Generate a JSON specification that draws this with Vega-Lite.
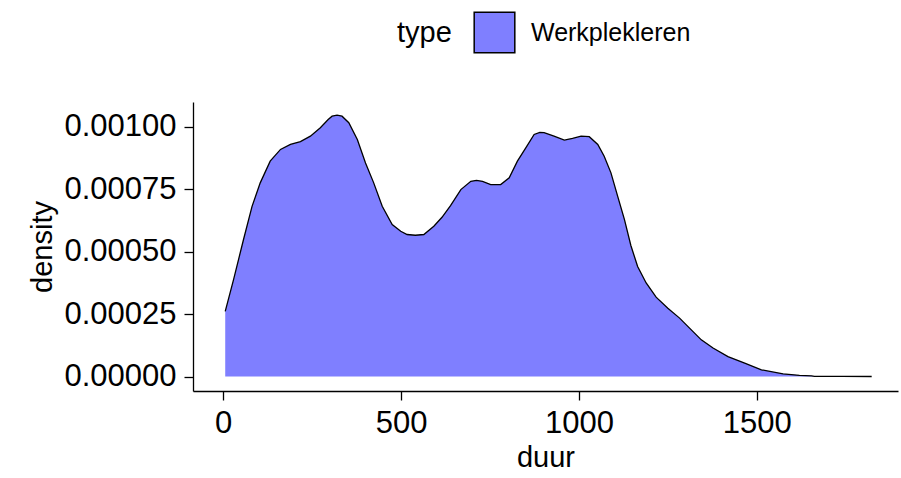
{
  "$schema": "https://vega.github.io/schema/vega-lite/v6.json",
  "autosize": {"type": "none"},
  "padding": {"left": 193, "top": 102, "right": 3, "bottom": 87},
  "width": 705,
  "height": 289,
  "background": "white",
  "config": {"view": {"stroke": null}, "font": "Liberation Sans"},
  "data": {
    "values": [
      {"duur": 5.6, "density": 0.000261, "type": "Werkplekleren"},
      {"duur": 29, "density": 0.000388, "type": "Werkplekleren"},
      {"duur": 57, "density": 0.000549, "type": "Werkplekleren"},
      {"duur": 81, "density": 0.000682, "type": "Werkplekleren"},
      {"duur": 104, "density": 0.000776, "type": "Werkplekleren"},
      {"duur": 132, "density": 0.000863, "type": "Werkplekleren"},
      {"duur": 161, "density": 0.000910, "type": "Werkplekleren"},
      {"duur": 189, "density": 0.000930, "type": "Werkplekleren"},
      {"duur": 217, "density": 0.000941, "type": "Werkplekleren"},
      {"duur": 245, "density": 0.000963, "type": "Werkplekleren"},
      {"duur": 273, "density": 0.000997, "type": "Werkplekleren"},
      {"duur": 295, "density": 0.001030, "type": "Werkplekleren"},
      {"duur": 306, "density": 0.001043, "type": "Werkplekleren"},
      {"duur": 320, "density": 0.001047, "type": "Werkplekleren"},
      {"duur": 334, "density": 0.001043, "type": "Werkplekleren"},
      {"duur": 353, "density": 0.001017, "type": "Werkplekleren"},
      {"duur": 377, "density": 0.000950, "type": "Werkplekleren"},
      {"duur": 400, "density": 0.000856, "type": "Werkplekleren"},
      {"duur": 423, "density": 0.000776, "type": "Werkplekleren"},
      {"duur": 447, "density": 0.000682, "type": "Werkplekleren"},
      {"duur": 475, "density": 0.000609, "type": "Werkplekleren"},
      {"duur": 499, "density": 0.000582, "type": "Werkplekleren"},
      {"duur": 517, "density": 0.000569, "type": "Werkplekleren"},
      {"duur": 540, "density": 0.000566, "type": "Werkplekleren"},
      {"duur": 564, "density": 0.000569, "type": "Werkplekleren"},
      {"duur": 592, "density": 0.000602, "type": "Werkplekleren"},
      {"duur": 615, "density": 0.000638, "type": "Werkplekleren"},
      {"duur": 639, "density": 0.000685, "type": "Werkplekleren"},
      {"duur": 668, "density": 0.000749, "type": "Werkplekleren"},
      {"duur": 696, "density": 0.000782, "type": "Werkplekleren"},
      {"duur": 712, "density": 0.000786, "type": "Werkplekleren"},
      {"duur": 729, "density": 0.000782, "type": "Werkplekleren"},
      {"duur": 752, "density": 0.000769, "type": "Werkplekleren"},
      {"duur": 780, "density": 0.000769, "type": "Werkplekleren"},
      {"duur": 804, "density": 0.000796, "type": "Werkplekleren"},
      {"duur": 827, "density": 0.000863, "type": "Werkplekleren"},
      {"duur": 851, "density": 0.000917, "type": "Werkplekleren"},
      {"duur": 874, "density": 0.000970, "type": "Werkplekleren"},
      {"duur": 890, "density": 0.000978, "type": "Werkplekleren"},
      {"duur": 902, "density": 0.000977, "type": "Werkplekleren"},
      {"duur": 930, "density": 0.000963, "type": "Werkplekleren"},
      {"duur": 959, "density": 0.000947, "type": "Werkplekleren"},
      {"duur": 982, "density": 0.000954, "type": "Werkplekleren"},
      {"duur": 1006, "density": 0.000963, "type": "Werkplekleren"},
      {"duur": 1029, "density": 0.000961, "type": "Werkplekleren"},
      {"duur": 1053, "density": 0.000930, "type": "Werkplekleren"},
      {"duur": 1071, "density": 0.000883, "type": "Werkplekleren"},
      {"duur": 1090, "density": 0.000816, "type": "Werkplekleren"},
      {"duur": 1109, "density": 0.000722, "type": "Werkplekleren"},
      {"duur": 1128, "density": 0.000629, "type": "Werkplekleren"},
      {"duur": 1146, "density": 0.000525, "type": "Werkplekleren"},
      {"duur": 1165, "density": 0.000441, "type": "Werkplekleren"},
      {"duur": 1189, "density": 0.000375, "type": "Werkplekleren"},
      {"duur": 1217, "density": 0.000318, "type": "Werkplekleren"},
      {"duur": 1250, "density": 0.000274, "type": "Werkplekleren"},
      {"duur": 1283, "density": 0.000234, "type": "Werkplekleren"},
      {"duur": 1311, "density": 0.000194, "type": "Werkplekleren"},
      {"duur": 1344, "density": 0.000147, "type": "Werkplekleren"},
      {"duur": 1377, "density": 0.000114, "type": "Werkplekleren"},
      {"duur": 1419, "density": 0.000080, "type": "Werkplekleren"},
      {"duur": 1466, "density": 0.000054, "type": "Werkplekleren"},
      {"duur": 1513, "density": 0.000027, "type": "Werkplekleren"},
      {"duur": 1574, "density": 0.000011, "type": "Werkplekleren"},
      {"duur": 1620, "density": 0.000005, "type": "Werkplekleren"},
      {"duur": 1654, "density": 0.000003, "type": "Werkplekleren"},
      {"duur": 1662, "density": 0.0000005, "type": "Werkplekleren"},
      {"duur": 1740, "density": 0.0000003, "type": "Werkplekleren"},
      {"duur": 1823, "density": 0.0000001, "type": "Werkplekleren"}
    ]
  },
  "encoding": {
    "x": {
      "field": "duur",
      "type": "quantitative",
      "scale": {"domain": [-85, 1897], "nice": false, "zero": false},
      "axis": {
        "values": [0, 500, 1000, 1500],
        "format": "d",
        "grid": false,
        "domainColor": "black",
        "domainWidth": 1.3,
        "tickColor": "black",
        "tickWidth": 1.3,
        "tickSize": 9,
        "labelFontSize": 31,
        "labelColor": "black",
        "labelPadding": 8,
        "title": "duur",
        "titleFontSize": 29,
        "titleFontWeight": "normal",
        "titleColor": "black",
        "titlePadding": 5
      }
    },
    "y": {
      "field": "density",
      "type": "quantitative",
      "scale": {"domain": [-0.000058, 0.0011], "nice": false, "zero": false},
      "axis": {
        "values": [0, 0.00025, 0.0005, 0.00075, 0.001],
        "format": ".5f",
        "grid": false,
        "domainColor": "black",
        "domainWidth": 1.3,
        "tickColor": "black",
        "tickWidth": 1.3,
        "tickSize": 9,
        "labelFontSize": 31,
        "labelColor": "black",
        "labelPadding": 8,
        "title": "density",
        "titleFontSize": 29,
        "titleFontWeight": "normal",
        "titleColor": "black",
        "titlePadding": 6
      }
    }
  },
  "layer": [
    {
      "mark": {"type": "area", "opacity": 1},
      "encoding": {
        "y2": {"datum": 0},
        "fill": {
          "field": "type",
          "type": "nominal",
          "scale": {"range": ["#7F7FFF"]},
          "legend": {
            "orient": "none",
            "legendX": 204,
            "legendY": -91,
            "direction": "horizontal",
            "title": "type",
            "titleOrient": "left",
            "titleFontSize": 29,
            "titleFontWeight": "normal",
            "titleColor": "black",
            "titlePadding": 21,
            "titleBaseline": "middle",
            "symbolType": "square",
            "symbolSize": 1650,
            "symbolStrokeColor": "black",
            "symbolStrokeWidth": 1.5,
            "symbolOpacity": 1,
            "labelFontSize": 25,
            "labelColor": "black",
            "labelOffset": 15
          }
        }
      }
    },
    {
      "mark": {"type": "line", "color": "black", "strokeWidth": 1.3},
      "encoding": {}
    }
  ]
}
